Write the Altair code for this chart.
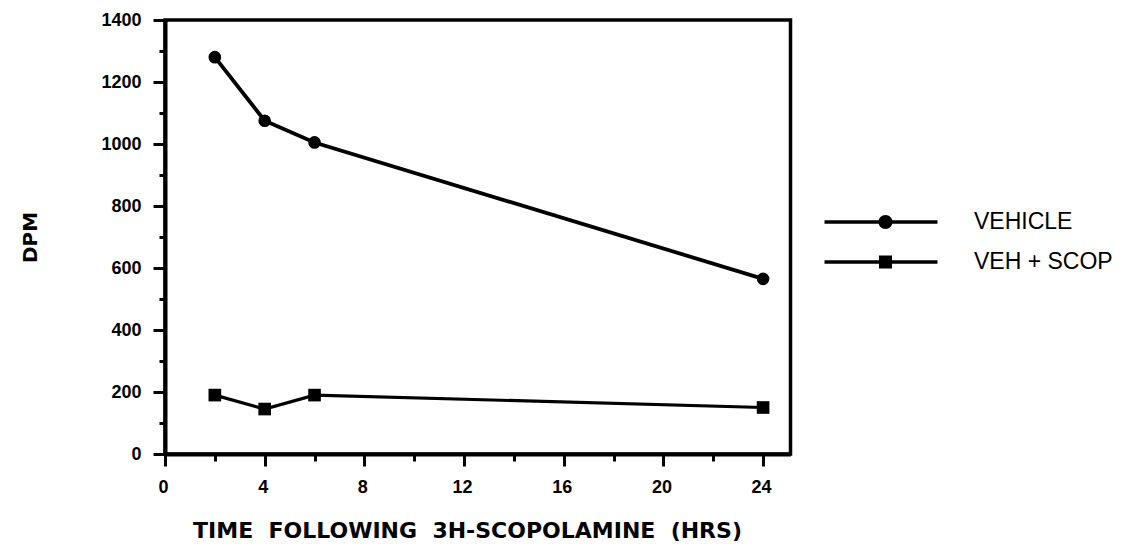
import altair as alt
import pandas as pd

# Time points (hours after 3H-scopolamine) and DPM readings per group
hours = [2, 4, 6, 24]
vehicle = [1280, 1075, 1005, 565]
veh_scop = [190, 145, 190, 150]
series_names = ["VEHICLE", "VEH + SCOP"]

x_major = [0, 4, 8, 12, 16, 20, 24]
x_minor = [2, 6, 10, 14, 18, 22]
y_major = [0, 200, 400, 600, 800, 1000, 1200, 1400]
y_minor = [100, 300, 500, 700, 900, 1100, 1300]

rows = []
for h, v in zip(hours, vehicle):
    rows.append({"hours": h, "dpm": v, "series": series_names[0]})
for h, v in zip(hours, veh_scop):
    rows.append({"hours": h, "dpm": v, "series": series_names[1]})
df = pd.DataFrame(rows)

# Legend glyphs: a long stroke with the series marker sitting on it.
# Path units are scaled by sqrt(symbolSize)/2 = 7 px.
line_circle = (
    "M-8.07,-0.25 L8.07,-0.25 L8.07,0.25 L-8.07,0.25 Z "
    "M1.643,0 A1,1 0 1,1 -0.357,0 A1,1 0 1,1 1.643,0 Z"
)
line_square = (
    "M-8.07,-0.25 L8.07,-0.25 L8.07,0.25 L-8.07,0.25 Z "
    "M-0.286,-0.929 L1.572,-0.929 L1.572,0.929 L-0.286,0.929 Z"
)

LABEL_FONT = "Liberation Sans"
TITLE_FONT = "DejaVu Sans"
NB = "\u00a0"

x_scale = alt.Scale(domain=[0, 25.1], nice=False, zero=True)
y_scale = alt.Scale(domain=[0, 1400], nice=False)

x_axis = alt.Axis(
    orient="bottom",
    values=x_major,
    tickSize=12,
    tickWidth=3,
    tickColor="black",
    domainColor="black",
    domainWidth=4,
    grid=False,
    labelFlush=False,
    labelFont=LABEL_FONT,
    labelFontWeight="bold",
    labelFontSize=18,
    labelColor="black",
    labelPadding=12,
    labelOffset=-2,
    title=f"TIME{NB}{NB}FOLLOWING{NB}{NB}3H-SCOPOLAMINE{NB}{NB}(HRS)",
    titleFont=TITLE_FONT,
    titleFontWeight="bold",
    titleFontSize=22,
    titleColor="black",
    titleX=302,
    titleY=83,
    titleBaseline="alphabetic",
    titleAlign="center",
)

y_axis = alt.Axis(
    orient="left",
    values=y_major,
    tickSize=12,
    tickWidth=3,
    tickColor="black",
    domainColor="black",
    domainWidth=4,
    grid=False,
    labelFlush=False,
    format="d",
    labelFont=LABEL_FONT,
    labelFontWeight="bold",
    labelFontSize=18,
    labelColor="black",
    labelPadding=12,
    title="DPM",
    titleFont=TITLE_FONT,
    titleFontWeight="bold",
    titleFontSize=20,
    titleColor="black",
    titleX=-129,
    titleBaseline="alphabetic",
)

x_minor_axis = alt.Axis(
    orient="bottom", values=x_minor, tickSize=7, tickWidth=3, tickColor="black",
    labels=False, domain=False, grid=False, title=None,
)
y_minor_axis = alt.Axis(
    orient="left", values=y_minor, tickSize=6, tickWidth=3, tickColor="black",
    labels=False, domain=False, grid=False, title=None,
)

base = alt.Chart(df)

lines = base.mark_line(color="black").encode(
    x=alt.X("hours:Q", scale=x_scale, axis=x_axis),
    y=alt.Y("dpm:Q", scale=y_scale, axis=y_axis),
    detail="series:N",
    strokeWidth=alt.StrokeWidth(
        "series:N",
        scale=alt.Scale(domain=series_names, range=[3.8, 3.2]),
        legend=None,
    ),
)

# Carries the minor tick marks of both axes
minor_ticks = base.mark_point(opacity=0).encode(
    x=alt.X("hours:Q", axis=x_minor_axis),
    y=alt.Y("dpm:Q", axis=y_minor_axis),
)

points = base.mark_point(filled=True, color="black", opacity=1, size=160).encode(
    x=alt.X("hours:Q", axis=None),
    y=alt.Y("dpm:Q", axis=None),
    shape=alt.Shape(
        "series:N",
        scale=alt.Scale(domain=series_names, range=["circle", "square"]),
        legend=None,
    ),
)

# Legend-only layer: no rows survive the filter, the legend comes from the scale domain
legend_layer = (
    base.transform_filter("false")
    .mark_point(filled=True, color="black", opacity=1)
    .encode(
        x=alt.X("hours:Q", axis=None),
        y=alt.Y("dpm:Q", axis=None),
        shape=alt.Shape(
            "series:N",
            scale=alt.Scale(domain=series_names, range=[line_circle, line_square]),
            legend=alt.Legend(
                title=None,
                orient="none",
                legendX=704.5,
                legendY=190.5,
                symbolSize=196,
                symbolFillColor="black",
                symbolStrokeWidth=0,
                symbolOpacity=1,
                labelFont=LABEL_FONT,
                labelFontSize=23,
                labelColor="black",
                labelOffset=81.5,
                rowPadding=16,
            ),
        ),
    )
)

chart = (
    alt.layer(lines, minor_ticks, points, legend_layer)
    .resolve_scale(shape="independent")
    .resolve_axis(x="independent", y="independent")
    .properties(
        width=625.5,
        height=434,
        autosize=alt.AutoSizeParams(type="none"),
        padding={"left": 165, "top": 20, "right": 336.5, "bottom": 90},
        background="white",
    )
    .configure_view(stroke="black", strokeWidth=3.5)
)

chart.save("out.html", embed_options={"renderer": "svg", "actions": False})
